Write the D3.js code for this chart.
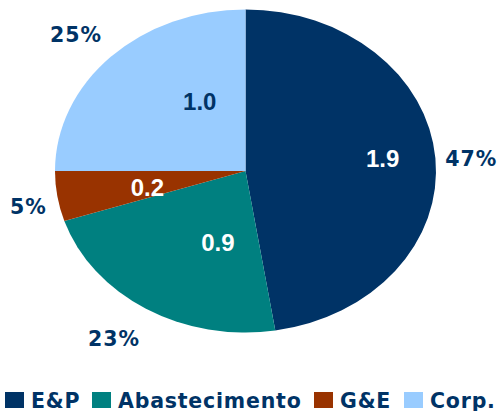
<!DOCTYPE html>
<html><head><meta charset="utf-8">
<script src="https://cdn.jsdelivr.net/npm/d3@7"></script>
<style>body{margin:0;background:#fff}svg{display:block}</style>
</head><body>
<svg id="c" width="500" height="411"></svg>
<script>
const categories = ["E&P", "Abastecimento", "G&E", "Corp."];
const values = [1.9, 0.9, 0.2, 1.0];
const valueLabels = ["1.9", "0.9", "0.2", "1.0"];
const percentLabels = ["47%", "23%", "5%", "25%"];
const colors = ["#003366", "#008080", "#993300", "#99CCFF"];
const valueLabelColors = ["#ffffff", "#ffffff", "#ffffff", "#003366"];

// layout (label placement relative to pie center, in units of radius)
const valuePos = [[0.72, -0.08], [-0.145, 0.44], [-0.515, 0.105], [-0.24, -0.43]];
const pctPos = [[1.185, -0.075], [-0.69, 1.04], [-1.14, 0.22], [-0.89, -0.84]];

const svg = d3.select("#c");
const cx = 245.5, cy = 171, rx = 190.5, ry = 161.5;
const fmt = "'DejaVu Sans', Verdana, sans-serif";

const pie = d3.pie().sort(null).value(d => d)(values);
const arc = d3.arc().innerRadius(0).outerRadius(ry);
const g = svg.append("g").attr("transform", `translate(${cx},${cy}) scale(${rx/ry},1)`);
g.selectAll("path").data(pie).join("path").attr("d", arc).attr("fill", (d,i) => colors[i]);

const tg = svg.append("g").attr("transform", `translate(${cx},${cy})`);
tg.selectAll("text.v").data(pie).join("text").attr("class","v")
  .attr("x", (d,i) => valuePos[i][0]*rx).attr("y", (d,i) => valuePos[i][1]*ry)
  .attr("text-anchor","middle").attr("dominant-baseline","central")
  .attr("font-family","'Liberation Sans', Arial, sans-serif").attr("font-weight","bold").attr("font-size",24)
  .attr("fill",(d,i)=>valueLabelColors[i]).text((d,i)=>valueLabels[i]);
tg.selectAll("text.p").data(pie).join("text").attr("class","p")
  .attr("x", (d,i) => pctPos[i][0]*rx).attr("y", (d,i) => pctPos[i][1]*ry)
  .attr("text-anchor","middle").attr("dominant-baseline","central")
  .attr("font-family",fmt).attr("font-weight","bold").attr("font-size",20.5)
  .attr("letter-spacing", 1)
  .attr("fill","#003366").text((d,i)=>percentLabels[i]);

// legend
const lx = [5, 92, 314, 404];
const lg = svg.append("g");
categories.forEach((c,i) => {
  lg.append("rect").attr("x", lx[i]).attr("y", 392).attr("width", 19).attr("height", 16).attr("fill", colors[i]);
  lg.append("text").attr("x", lx[i]+26).attr("y", 407.5)
    .attr("font-family",fmt).attr("font-weight","bold").attr("font-size",20.5)
    .attr("letter-spacing", 0.8)
    .attr("fill","#003366").text(c);
});
</script>
</body></html>
